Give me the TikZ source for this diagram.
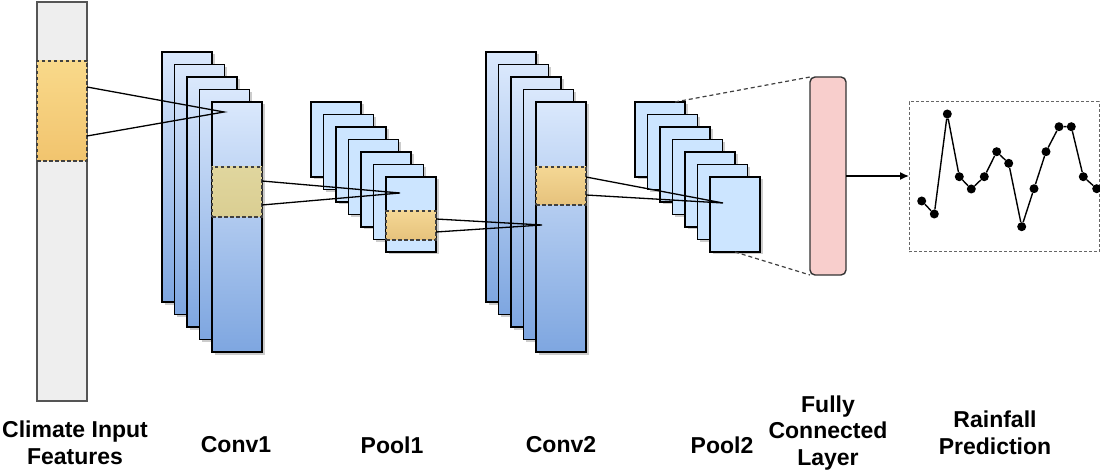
\documentclass[tikz,border=0pt]{standalone}
\usepackage{fontspec}
\setmainfont{Liberation Sans}
\usetikzlibrary{calc,shadows,arrows.meta}
\definecolor{convtop}{HTML}{DAE8FC}
\definecolor{convbot}{HTML}{7EA6E0}
\definecolor{poolfill}{HTML}{CCE5FF}
\definecolor{inbarfill}{HTML}{EEEEEE}
\definecolor{inbardraw}{HTML}{555555}
\definecolor{bandtopA}{HTML}{F9D98A}
\definecolor{bandbotA}{HTML}{F1C46E}
\definecolor{bandtopB}{HTML}{E0D69E}
\definecolor{bandbotB}{HTML}{DACE92}
\definecolor{bandtopC}{HTML}{F4D794}
\definecolor{bandbotC}{HTML}{E6C27C}
\definecolor{fcpink}{HTML}{F8CECC}
\begin{document}
\begin{tikzpicture}[x=1bp,y=-1bp,
  box/.style={draw=black, line width=1.7bp, inner sep=0pt, outer sep=0pt, anchor=north west,
    drop shadow={shadow xshift=2.5bp, shadow yshift=-2.5bp, fill=black!40, opacity=.5}},
  convbox/.style={box, minimum width=50bp, minimum height=250bp, top color=convtop, bottom color=convbot},
  poolbox/.style={box, minimum width=50bp, minimum height=75bp, fill=poolfill},
  band/.style={draw=black!75, dash pattern=on 3.5bp off 2.5bp, line width=1.8bp, inner sep=0pt, outer sep=0pt,
    anchor=north west, minimum width=50bp},
  link/.style={draw=black, line width=1.3bp},
  guide/.style={draw=black!75, line width=1.2bp, dash pattern=on 4bp off 3bp},
  dot/.style={circle, fill=black, inner sep=0pt, minimum size=9bp},
  lbl/.style={font=\fontsize{23bp}{26.5bp}\selectfont\bfseries, align=center, inner sep=0pt}]
\useasboundingbox (0,0) rectangle (1100,472);

% input column
\node[draw=inbardraw, fill=inbarfill, line width=1.2bp, inner sep=0pt, outer sep=0pt, anchor=north west,
  minimum width=50bp, minimum height=399bp] (inp) at (37,2) {};
\node[band, minimum height=100bp, top color=bandtopA, bottom color=bandbotA] (inband) at (37,61) {};

% conv1
\foreach \i in {0,...,4}
  \node[convbox] (cA\i) at ({162+12.5*\i},{52+12.5*\i}) {};
\node[band, minimum height=50bp, top color=bandtopB, bottom color=bandbotB] (bandA) at (212,167) {};

% pool1
\foreach \i in {0,...,6}
  \node[poolbox] (pB\i) at ({311+12.5*\i},{102+12.5*\i}) {};
\node[band, minimum height=29bp, top color=bandtopC, bottom color=bandbotC] (bandB) at (386,211) {};

% conv2
\foreach \i in {0,...,4}
  \node[convbox] (cB\i) at ({486+12.5*\i},{52+12.5*\i}) {};
\node[band, minimum height=38bp, top color=bandtopC, bottom color=bandbotC] (bandC) at (536,167) {};

% pool2
\foreach \i in {0,...,6}
  \node[poolbox] (pC\i) at ({635+12.5*\i},{102+12.5*\i}) {};

% fully connected
\node[draw=black!80, fill=fcpink, line width=1.4bp, rounded corners=5bp, inner sep=0pt, outer sep=0pt,
  anchor=north west, minimum width=36bp, minimum height=198bp] (fc) at (810,77) {};

% output panel
\node[draw=black!60, dash pattern=on 3bp off 2bp, line width=1bp, inner sep=0pt, outer sep=0pt,
  anchor=north west, minimum width=190bp, minimum height=150bp] (out) at (909,102) {};

% focus points
\coordinate (fA) at ($(cA4.north west)+(12,10)$);
\coordinate (fB) at ($(pB6.north west)+(14,16)$);
\coordinate (fC) at ($(cB4.north west)+(6,123)$);
\coordinate (fD) at ($(pC6.north west)+(13,26)$);

% receptive field connectors
\draw[link] ($(inband.north east)+(0,26)$) -- (fA) -- ($(inband.north east)+(0,75)$);
\draw[link] ($(bandA.north east)+(0,14)$) -- (fB) -- ($(bandA.north east)+(0,38)$);
\draw[link] ($(bandB.north east)+(0,8)$) -- (fC) -- ($(bandB.north east)+(0,21)$);
\draw[link] ($(bandC.north east)+(0,10)$) -- (fD) -- ($(bandC.north east)+(0,28)$);

% flatten guides
\draw[guide] ($(pC0.north east)+(-10,0)$) -- (fc.north west);
\draw[guide] (pC6.south) -- (fc.south west);

% output arrow
\draw[line width=1.4bp, -{Latex[length=9bp,width=8bp]}] (fc.east) -- (fc.east -| out.west);

% prediction series
\foreach \n/\px/\py in {1/921.7/201, 2/934.3/214, 3/947.3/114, 4/959.3/176.7, 5/971.3/189,
  6/984.3/176.7, 7/996.7/151.7, 8/1008.7/163.3, 9/1021.7/226.7, 10/1034/188.7,
  11/1046/151.7, 12/1059/126.7, 13/1071.3/126.7, 14/1083.3/176.7, 15/1096.7/188.7}
  \node[dot] (d\n) at (\px,\py) {};
\draw[line width=1.4bp] (d1) -- (d2) -- (d3) -- (d4) -- (d5) -- (d6) -- (d7) -- (d8) -- (d9)
  -- (d10) -- (d11) -- (d12) -- (d13) -- (d14) -- (d15);

% labels
\node[lbl] (lIn) at (75,443) {Climate Input\\Features};
\node[lbl] (lC1) at (236,445) {Conv1};
\node[lbl] (lP1) at (392,445) {Pool1};
\node[lbl] (lC2) at (561,445) {Conv2};
\node[lbl] (lP2) at (722,445) {Pool2};
\node[lbl] (lFC) at (828,433) {Fully\\Connected\\Layer};
\node[lbl] (lRP) at (995,433) {Rainfall\\Prediction};
\end{tikzpicture}
\end{document}
